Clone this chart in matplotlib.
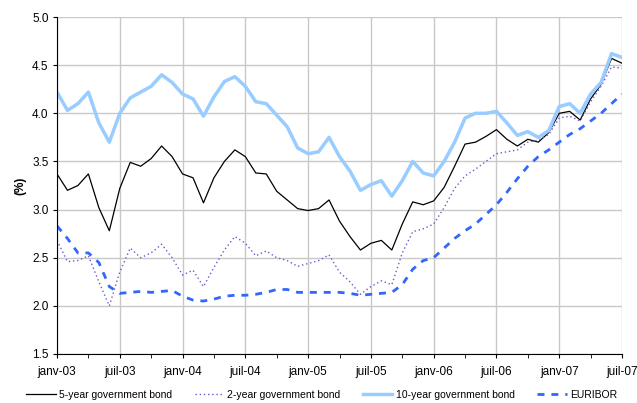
import matplotlib
matplotlib.use("Agg")
import matplotlib.pyplot as plt
import numpy as np

months = 55
tick_labels = ["janv-03","juil-03","janv-04","juil-04","janv-05","juil-05","janv-06","juil-06","janv-07","juil-07"]
y10 = [4.22,4.03,4.10,4.22,3.90,3.70,4.00,4.16,4.22,4.28,4.40,4.32,4.20,4.15,3.97,4.17,4.33,4.38,4.28,4.12,
       4.10,3.98,3.86,3.64,3.58,3.60,3.75,3.55,3.40,3.20,3.26,3.30,3.14,3.30,3.50,3.38,3.35,3.50,3.70,3.95,
       4.00,4.00,4.02,3.90,3.77,3.81,3.75,3.82,4.07,4.10,4.00,4.20,4.32,4.62,4.58]
y5 = [3.37,3.20,3.25,3.37,3.02,2.78,3.22,3.49,3.45,3.53,3.66,3.55,3.37,3.33,3.07,3.33,3.50,3.62,3.55,3.38,
      3.37,3.19,3.10,3.01,2.99,3.01,3.10,2.88,2.72,2.58,2.65,2.68,2.58,2.85,3.08,3.05,3.09,3.23,3.45,3.68,
      3.70,3.76,3.83,3.73,3.66,3.73,3.70,3.80,4.00,4.02,3.93,4.15,4.30,4.57,4.52]
y2 = [2.68,2.46,2.47,2.52,2.25,2.00,2.35,2.60,2.50,2.55,2.64,2.50,2.32,2.37,2.20,2.40,2.58,2.72,2.65,2.52,
      2.57,2.50,2.47,2.41,2.44,2.47,2.53,2.35,2.25,2.12,2.20,2.26,2.22,2.55,2.77,2.80,2.85,3.02,3.22,3.35,
      3.42,3.50,3.58,3.60,3.62,3.70,3.72,3.78,3.95,3.97,3.92,4.12,4.28,4.48,4.47]
euribor = [2.83,2.70,2.55,2.55,2.45,2.20,2.13,2.14,2.15,2.14,2.15,2.16,2.10,2.06,2.05,2.07,2.10,2.11,2.11,2.12,
           2.14,2.17,2.17,2.14,2.14,2.14,2.14,2.14,2.13,2.11,2.12,2.13,2.14,2.22,2.38,2.47,2.50,2.60,2.70,2.78,
           2.85,2.95,3.05,3.18,3.32,3.45,3.55,3.62,3.70,3.78,3.84,3.92,4.00,4.10,4.20]

x = np.arange(months)
fig = plt.figure(figsize=(6.37,4.03), dpi=100)
ax = fig.add_axes([57/637, 1-354/403, 565/637, 337/403])
ax.plot(x, y5, color="black", lw=0.9, label="5-year government bond")
ax.plot(x, y2, color="#6a5acd", lw=1.0, ls=(0,(1,2)), label="2-year government bond")
ax.plot(x, y10, color="#99ccff", lw=2.5, label="10-year government bond")
ax.plot(x, euribor, color="#3366ff", lw=2.0, ls=(0,(2.5,2.5)), label="EURIBOR")
ax.set_xlim(0, 54)
ax.set_ylim(1.5, 5.0)
ax.set_xticks(np.arange(0, 55, 6))
ax.set_xticks(np.arange(3, 55, 6), minor=True)
ax.set_xticklabels(tick_labels, fontsize=8.5, family="Liberation Sans")
ax.set_yticks(np.arange(1.5, 5.01, 0.5))
ax.set_yticklabels([f"{v:.1f}" for v in np.arange(1.5, 5.01, 0.5)], fontsize=8.5, family="Liberation Sans")
ax.grid(True, which="major", color="#c8c8c8", lw=1)
ax.set_axisbelow(True)
for s in ["top","right"]:
    ax.spines[s].set_visible(False)
ax.spines["left"].set_color("black")
ax.spines["bottom"].set_color("black")
ax.tick_params(which="both", direction="out", length=3)
ax.tick_params(axis="x", pad=6)
ax.tick_params(axis="y", pad=3)
ax.set_ylabel("(%)", fontsize=8.5, fontweight="bold", family="Liberation Sans")
fig.legend(loc="center", ncol=4, frameon=False, bbox_to_anchor=(0.505, 1-395/403),
           prop={"family":"Liberation Sans","size":7.5}, handlelength=2.8, columnspacing=2.2,
           handletextpad=0.3)
fig.savefig("out.png", dpi=100)
